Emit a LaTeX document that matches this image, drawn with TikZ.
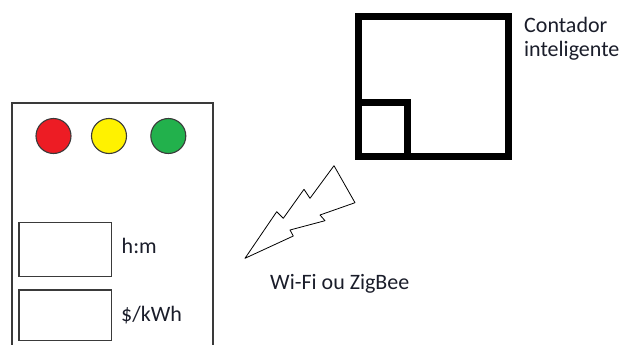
\documentclass[tikz,border=0pt]{standalone}
\usepackage{fontspec}
\setmainfont{Carlito}
\definecolor{txt}{HTML}{1A1D2A}
\definecolor{pred}{HTML}{ED1C24}
\definecolor{pyel}{HTML}{FFF200}
\definecolor{pgrn}{HTML}{22B14C}
\definecolor{edge}{HTML}{3A3A3A}
\begin{document}
\begin{tikzpicture}[x=1pt,y=-1pt,
  lbl/.style={anchor=base west,inner sep=0pt,text=txt,font=\fontsize{22}{26}\selectfont},
  panel/.style={draw=edge,line width=1.3pt},
  lamp/.style={circle,draw=edge,line width=1.1pt,minimum size=35pt,inner sep=0pt},
  meter/.style={draw=black,line width=7pt}]
\useasboundingbox (0,0) rectangle (629,345);
% smart meter
\draw[meter] (358.5,17) rectangle (508,156);
\draw[meter] (358.5,102) -- (407,102) -- (407,156);
\node[lbl] (c1) at (524,33) {Contador};
\node[lbl] (c2) at (524,57) {inteligente};
% display panel
\draw[panel] (12,360) -- (12,103) -- (213,103) -- (213,360);
\node[lamp,fill=pred] (r) at (53.5,136) {};
\node[lamp,fill=pyel] (y) at (109,136) {};
\node[lamp,fill=pgrn] (g) at (168.3,136) {};
\node[panel,draw,minimum width=92.5pt,minimum height=54pt,inner sep=0pt] (b1) at (65.3,249.7) {};
\node[panel,draw,minimum width=92.5pt,minimum height=50.7pt,inner sep=0pt] (b2) at (65.3,315.3) {};
\node[lbl] (t1) at (121.5,253) {h:m};
\node[lbl] (t2) at (121,321.5) {\$/kWh};
% lightning
\draw[black,line width=0.8pt,line join=round]
  (245,258.3) -- (276.7,211.7) -- (283.3,218.3) -- (304,189.3) -- (310,198.3)
  -- (334,165.7) -- (355,202.7) -- (320,215) -- (325,220.7) -- (290,230)
  -- (293.3,236) -- cycle;
\node[lbl] (w) at (270,289) {Wi-Fi ou ZigBee};
\end{tikzpicture}
\end{document}
